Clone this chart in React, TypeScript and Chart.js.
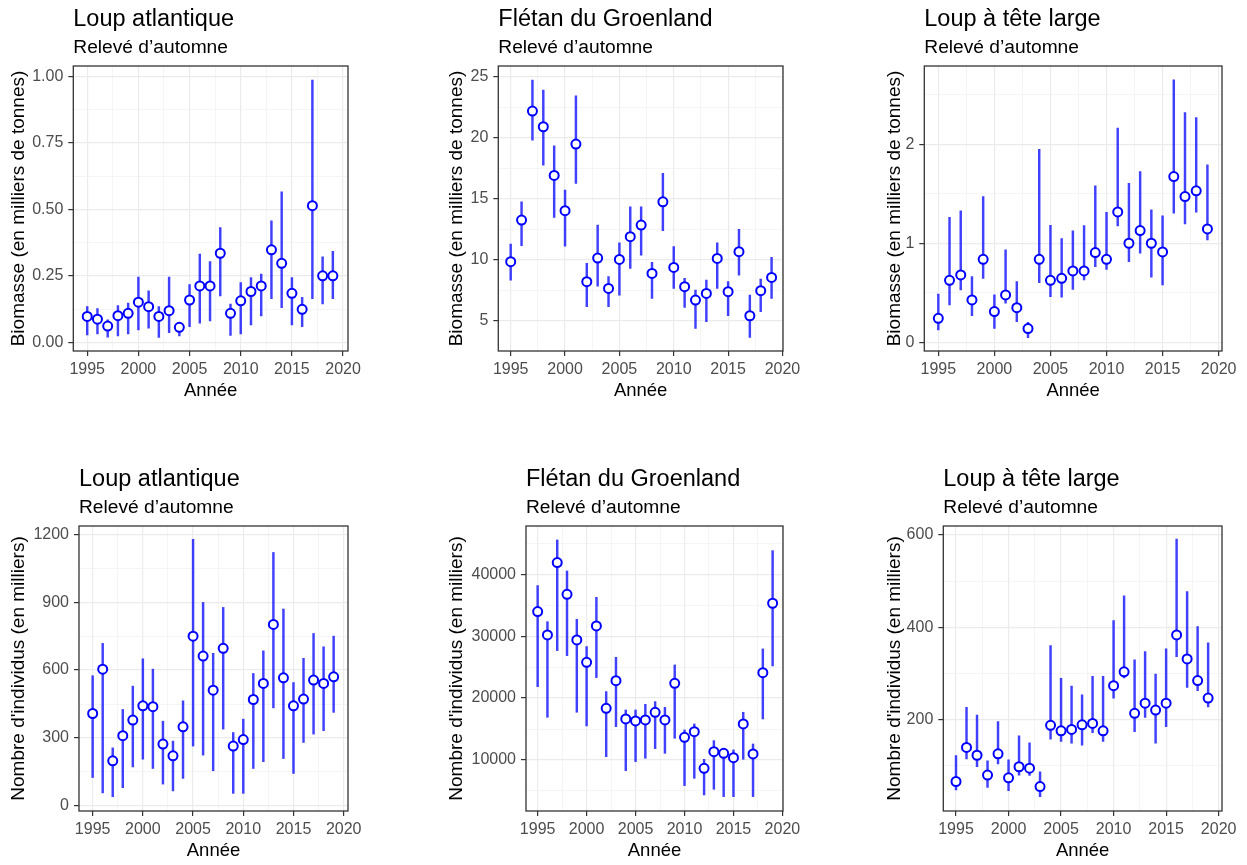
import React, { useEffect, useRef } from "react";
import { Chart, registerables } from "chart.js";

Chart.register(...registerables);
Chart.defaults.font.family = "'Liberation Sans', Arial, sans-serif";

// ---- Survey years -------------------------------------------------------
const YEARS = [
  1995, 1996, 1997, 1998, 1999, 2000, 2001, 2002, 2003, 2004, 2005, 2006, 2007,
  2008, 2009, 2010, 2011, 2012, 2013, 2014, 2015, 2016, 2017, 2018, 2019,
];

// ---- Loup atlantique : biomasse (milliers de t) ---------------------------
const ATL_BIO = [0.097, 0.087, 0.061, 0.1, 0.109, 0.151, 0.134, 0.097, 0.119, 0.056, 0.159, 0.212, 0.212, 0.335, 0.109, 0.156, 0.191, 0.212, 0.348, 0.297, 0.184, 0.124, 0.514, 0.25, 0.25];
const ATL_BIO_LO = [0.028, 0.031, 0.019, 0.024, 0.031, 0.046, 0.053, 0.018, 0.036, 0.024, 0.059, 0.072, 0.08, 0.174, 0.026, 0.031, 0.065, 0.099, 0.164, 0.13, 0.065, 0.059, 0.164, 0.144, 0.164];
const ATL_BIO_HI = [0.134, 0.127, 0.084, 0.138, 0.147, 0.245, 0.194, 0.134, 0.245, 0.072, 0.217, 0.332, 0.304, 0.432, 0.144, 0.225, 0.243, 0.257, 0.457, 0.566, 0.243, 0.169, 0.987, 0.322, 0.342];

// ---- Flétan du Groenland : biomasse -------------------------------------
const FLE_BIO = [9.84, 13.25, 22.19, 20.9, 16.91, 14.02, 19.48, 8.2, 10.14, 7.65, 10.03, 11.89, 12.84, 8.88, 14.75, 9.37, 7.79, 6.69, 7.24, 10.11, 7.38, 10.66, 5.41, 7.46, 8.55];
const FLE_BIO_LO = [8.33, 11.15, 19.81, 17.76, 13.47, 11.12, 16.26, 6.15, 7.84, 6.15, 7.1, 9.29, 10.38, 6.83, 12.38, 7.65, 6.09, 4.37, 4.92, 7.65, 5.41, 8.74, 3.63, 5.74, 6.83];
const FLE_BIO_HI = [11.28, 14.75, 24.73, 23.91, 19.34, 15.71, 23.44, 9.7, 12.84, 8.61, 11.39, 14.34, 14.34, 9.78, 17.08, 11.07, 8.47, 7.51, 8.33, 11.39, 8.2, 12.49, 7.1, 8.42, 10.19];

// ---- Loup à tête large : biomasse ---------------------------------------
const TL_BIO = [0.242, 0.626, 0.68, 0.428, 0.838, 0.31, 0.478, 0.35, 0.138, 0.838, 0.626, 0.646, 0.721, 0.721, 0.906, 0.838, 1.316, 1.0, 1.128, 1.0, 0.912, 1.673, 1.471, 1.529, 1.145];
const TL_BIO_LO = [0.125, 0.377, 0.529, 0.269, 0.646, 0.141, 0.394, 0.209, 0.047, 0.603, 0.461, 0.455, 0.535, 0.63, 0.764, 0.737, 1.175, 0.815, 0.899, 0.657, 0.579, 1.303, 1.195, 1.313, 1.034];
const TL_BIO_HI = [0.488, 1.263, 1.327, 0.663, 1.471, 0.478, 0.933, 0.613, 0.202, 1.949, 1.182, 1.047, 1.125, 1.178, 1.579, 1.313, 2.162, 1.606, 1.724, 1.337, 1.276, 2.65, 2.32, 2.269, 1.791];

// ---- Loup atlantique : nombre d'individus (milliers) --------------------
const ATL_NUM = [408, 604, 199, 310, 379, 442, 438, 273, 221, 349, 750, 662, 511, 696, 264, 293, 470, 541, 802, 566, 442, 472, 556, 541, 570];
const ATL_NUM_LO = [125, 57, 40, 80, 172, 206, 165, 96, 66, 121, 264, 224, 155, 339, 55, 55, 165, 195, 433, 209, 143, 280, 317, 332, 413];
const ATL_NUM_HI = [575, 718, 256, 426, 529, 650, 604, 374, 286, 464, 1178, 899, 674, 877, 324, 383, 585, 685, 1120, 870, 545, 652, 762, 703, 750];

// ---- Flétan du Groenland : nombre d'individus ---------------------------
const FLE_NUM = [33970, 30200, 41890, 36770, 29390, 25780, 31650, 18350, 22820, 16630, 16310, 16470, 17710, 16470, 22390, 13670, 14580, 8660, 11350, 11080, 10380, 15820, 10980, 24110, 35320];
const FLE_NUM_LO = [21850, 16900, 27670, 26860, 17710, 15500, 23310, 10540, 15390, 8280, 9740, 10280, 11840, 11080, 13510, 5860, 7040, 4350, 5270, 4080, 4080, 10110, 4080, 16630, 25190];
const FLE_NUM_HI = [38170, 32350, 45550, 40540, 32730, 28320, 36280, 21050, 26590, 18080, 18080, 19000, 19430, 18510, 25350, 14850, 15820, 10110, 13130, 11890, 11620, 17710, 12590, 27940, 43820];

// ---- Loup à tête large : nombre d'individus -----------------------------
const TL_NUM = [65, 139, 122, 79, 125, 73, 97, 94, 54, 187, 175, 178, 188, 191, 175, 273, 303, 213, 235, 220, 235, 383, 331, 284, 246];
const TL_NUM_LO = [47, 114, 97, 52, 103, 45, 79, 78, 32, 157, 152, 148, 144, 171, 152, 246, 290, 173, 204, 148, 184, 336, 269, 262, 227];
const TL_NUM_HI = [121, 226, 209, 110, 195, 112, 164, 149, 86, 360, 289, 272, 253, 293, 293, 414, 468, 329, 347, 298, 353, 591, 477, 401, 366];

// ---- Axis ticks ----------------------------------------------------------
const X_MAJOR = [1995, 2000, 2005, 2010, 2015, 2020];
const X_MINOR = [1997.5, 2002.5, 2007.5, 2012.5, 2017.5];

const BIO_ATL_MAJOR = [0, 0.25, 0.5, 0.75, 1.0];
const BIO_ATL_MINOR = [0.125, 0.375, 0.625, 0.875];
const BIO_FLE_MAJOR = [5, 10, 15, 20, 25];
const BIO_FLE_MINOR = [7.5, 12.5, 17.5, 22.5];
const BIO_TL_MAJOR = [0, 1, 2];
const BIO_TL_MINOR = [0.5, 1.5, 2.5];
const NUM_ATL_MAJOR = [0, 300, 600, 900, 1200];
const NUM_ATL_MINOR = [150, 450, 750, 1050];
const NUM_FLE_MAJOR = [10000, 20000, 30000, 40000];
const NUM_FLE_MINOR = [5000, 15000, 25000, 35000, 45000];
const NUM_TL_MAJOR = [200, 400, 600];
const NUM_TL_MINOR = [100, 300, 500];

const TITLE_ATL = "Loup atlantique";
const TITLE_FLE = "Flétan du Groenland";
const TITLE_TL = "Loup à tête large";
const SUBTITLE = "Relevé d’automne";
const Y_BIO = "Biomasse (en milliers de tonnes)";
const Y_NUM = "Nombre d'individus (en milliers)";
const X_TITLE = "Année";

type Panel = {
  title: string;
  yTitle: string;
  est: number[];
  lo: number[];
  hi: number[];
  yMajor: number[];
  yMinor: number[];
  yDigits: number;
  yMin: number;
  yMax: number;
  xMin: number;
  xMax: number;
  // layout: canvas origin, y-axis band width, plot right edge
  left: number;
  top: number;
  yAxisWidth: number;
  plotRight: number;
};

const PANELS: Panel[] = [
  { title: TITLE_ATL, yTitle: Y_BIO, est: ATL_BIO, lo: ATL_BIO_LO, hi: ATL_BIO_HI, yMajor: BIO_ATL_MAJOR, yMinor: BIO_ATL_MINOR, yDigits: 2, yMin: -0.033, yMax: 1.04, xMin: 1993.64, xMax: 2020.48, left: 0, top: 0, yAxisWidth: 73.3, plotRight: 348.3 },
  { title: TITLE_FLE, yTitle: Y_BIO, est: FLE_BIO, lo: FLE_BIO_LO, hi: FLE_BIO_HI, yMajor: BIO_FLE_MAJOR, yMinor: BIO_FLE_MINOR, yDigits: 0, yMin: 2.52, yMax: 25.88, xMin: 1993.86, xMax: 2020.05, left: 438, top: 0, yAxisWidth: 60.3, plotRight: 345.3 },
  { title: TITLE_TL, yTitle: Y_BIO, est: TL_BIO, lo: TL_BIO_LO, hi: TL_BIO_HI, yMajor: BIO_TL_MAJOR, yMinor: BIO_TL_MINOR, yDigits: 0, yMin: -0.088, yMax: 2.79, xMin: 1993.75, xMax: 2020.3, left: 876, top: 0, yAxisWidth: 48.3, plotRight: 345.7 },
  { title: TITLE_ATL, yTitle: Y_NUM, est: ATL_NUM, lo: ATL_NUM_LO, hi: ATL_NUM_HI, yMajor: NUM_ATL_MAJOR, yMinor: NUM_ATL_MINOR, yDigits: 0, yMin: -23, yMax: 1237, xMin: 1993.64, xMax: 2020.43, left: 0, top: 460, yAxisWidth: 79, plotRight: 348.3 },
  { title: TITLE_FLE, yTitle: Y_NUM, est: FLE_NUM, lo: FLE_NUM_LO, hi: FLE_NUM_HI, yMajor: NUM_FLE_MAJOR, yMinor: NUM_FLE_MINOR, yDigits: 0, yMin: 1760, yMax: 47800, xMin: 1993.81, xMax: 2020.06, left: 438, top: 460, yAxisWidth: 88, plotRight: 345.3 },
  { title: TITLE_TL, yTitle: Y_NUM, est: TL_NUM, lo: TL_NUM_LO, hi: TL_NUM_HI, yMajor: NUM_TL_MAJOR, yMinor: NUM_TL_MINOR, yDigits: 0, yMin: 1, yMax: 619.5, xMin: 1993.79, xMax: 2020.32, left: 876, top: 460, yAxisWidth: 67.3, plotRight: 345.7 },
];

const CANVAS_H = 410;
const RIGHT_PAD = 25;
const X_AXIS_H = 51;
const PLOT_BOTTOM = 351;

const BLUE = "#0000FF";
const LINE_BLUE = "rgba(0, 0, 255, 0.75)";
const GRID_MAJOR = "#EBEBEB";
const GRID_MINOR = "#F3F3F3";
const TICK_TEXT = "#4D4D4D";
const FRAME = "#333333";

const isIn = (list: number[], v: number) => list.some((m) => Math.abs(m - v) < 1e-9);

// Dark frame around the plotting panel, drawn above the data.
const panelFrame = {
  id: "panelFrame",
  afterDatasetsDraw(chart: any) {
    const { ctx, chartArea } = chart;
    ctx.save();
    ctx.strokeStyle = FRAME;
    ctx.lineWidth = 1.3;
    ctx.strokeRect(chartArea.left, chartArea.top, chartArea.right - chartArea.left, chartArea.bottom - chartArea.top);
    ctx.restore();
  },
};

function PanelChart({ p }: { p: Panel }) {
  const ref = useRef<HTMLCanvasElement | null>(null);
  const width = p.plotRight + RIGHT_PAD;

  useEffect(() => {
    if (!ref.current) return;
    const xTicks = [...X_MAJOR, ...X_MINOR].sort((a, b) => a - b);
    const yTicks = [...p.yMajor, ...p.yMinor].sort((a, b) => a - b);

    const chart = new Chart(ref.current, {
      type: "bar",
      data: {
        datasets: [
          {
            type: "line",
            data: YEARS.map((x, i) => ({ x, y: p.est[i] })),
            showLine: false,
            pointRadius: 4.5,
            pointBorderWidth: 2,
            pointBackgroundColor: "#FFFFFF",
            pointBorderColor: BLUE,
            order: 0,
          } as any,
          {
            type: "bar",
            data: YEARS.map((x, i) => ({ x, y: [p.lo[i], p.hi[i]] })),
            backgroundColor: LINE_BLUE,
            borderWidth: 0,
            barThickness: 1.8,
            order: 1,
          } as any,
        ],
      },
      options: {
        animation: false,
        responsive: false,
        maintainAspectRatio: false,
        events: [],
        layout: { padding: { left: 0, top: 0, right: RIGHT_PAD, bottom: CANVAS_H - PLOT_BOTTOM - X_AXIS_H } },
        plugins: {
          legend: { display: false },
          tooltip: { enabled: false },
          title: {
            display: true,
            text: p.title,
            align: "start",
            fullSize: false,
            color: "#000000",
            font: { size: 23.5, weight: "normal" },
            padding: { top: 5.2, bottom: 0 },
          },
          subtitle: {
            display: true,
            text: SUBTITLE,
            align: "start",
            fullSize: false,
            color: "#000000",
            font: { size: 19.2, weight: "normal" },
            padding: { top: 3.2, bottom: 6.36 },
          },
        },
        scales: {
          x: {
            type: "linear",
            min: p.xMin,
            max: p.xMax,
            offset: false,
            bounds: "data",
            afterBuildTicks: (s: any) => {
              s.ticks = xTicks.map((value) => ({ value }));
            },
            afterFit: (s: any) => {
              s.height = X_AXIS_H;
            },
            ticks: {
              autoSkip: false,
              maxRotation: 0,
              color: TICK_TEXT,
              font: { size: 16 },
              padding: 4,
              callback: (v: any) => (isIn(X_MAJOR, Number(v)) ? String(v) : ""),
            },
            grid: {
              offset: false,
              drawTicks: true,
              tickLength: 5,
              tickWidth: 1.2,
              color: (c: any) => (isIn(X_MAJOR, c.tick?.value) ? GRID_MAJOR : GRID_MINOR),
              lineWidth: (c: any) => (isIn(X_MAJOR, c.tick?.value) ? 1.2 : 0.8),
              tickColor: (c: any) => (isIn(X_MAJOR, c.tick?.value) ? FRAME : "rgba(0,0,0,0)"),
            },
            border: { display: false },
            title: {
              display: true,
              text: X_TITLE,
              color: "#000000",
              font: { size: 18.5 },
              padding: { top: 0, bottom: 0 },
            },
          },
          y: {
            type: "linear",
            min: p.yMin,
            max: p.yMax,
            bounds: "data",
            afterBuildTicks: (s: any) => {
              s.ticks = yTicks.map((value) => ({ value }));
            },
            afterFit: (s: any) => {
              s.width = p.yAxisWidth;
            },
            ticks: {
              autoSkip: false,
              color: TICK_TEXT,
              font: { size: 16 },
              padding: 5,
              callback: (v: any) => (isIn(p.yMajor, Number(v)) ? Number(v).toFixed(p.yDigits) : ""),
            },
            grid: {
              drawTicks: true,
              tickLength: 5,
              tickWidth: 1.2,
              color: (c: any) => (isIn(p.yMajor, c.tick?.value) ? GRID_MAJOR : GRID_MINOR),
              lineWidth: (c: any) => (isIn(p.yMajor, c.tick?.value) ? 1.2 : 0.8),
              tickColor: (c: any) => (isIn(p.yMajor, c.tick?.value) ? FRAME : "rgba(0,0,0,0)"),
            },
            border: { display: false },
            title: {
              display: true,
              text: p.yTitle,
              color: "#000000",
              font: { size: 19 },
              padding: { top: 7.6, bottom: 0 },
            },
          },
        },
      } as any,
      plugins: [panelFrame],
    });
    return () => chart.destroy();
  }, [p]);

  return (
    <canvas
      ref={ref}
      width={Math.round(width)}
      height={CANVAS_H}
      style={{ position: "absolute", left: p.left, top: p.top, display: "block" }}
    />
  );
}

export default function App() {
  return (
    <div style={{ position: "absolute", left: 0, top: 0, width: 1247, height: 865, background: "#FFFFFF", overflow: "hidden" }}>
      {PANELS.map((p, i) => (
        <PanelChart key={i} p={p} />
      ))}
    </div>
  );
}
